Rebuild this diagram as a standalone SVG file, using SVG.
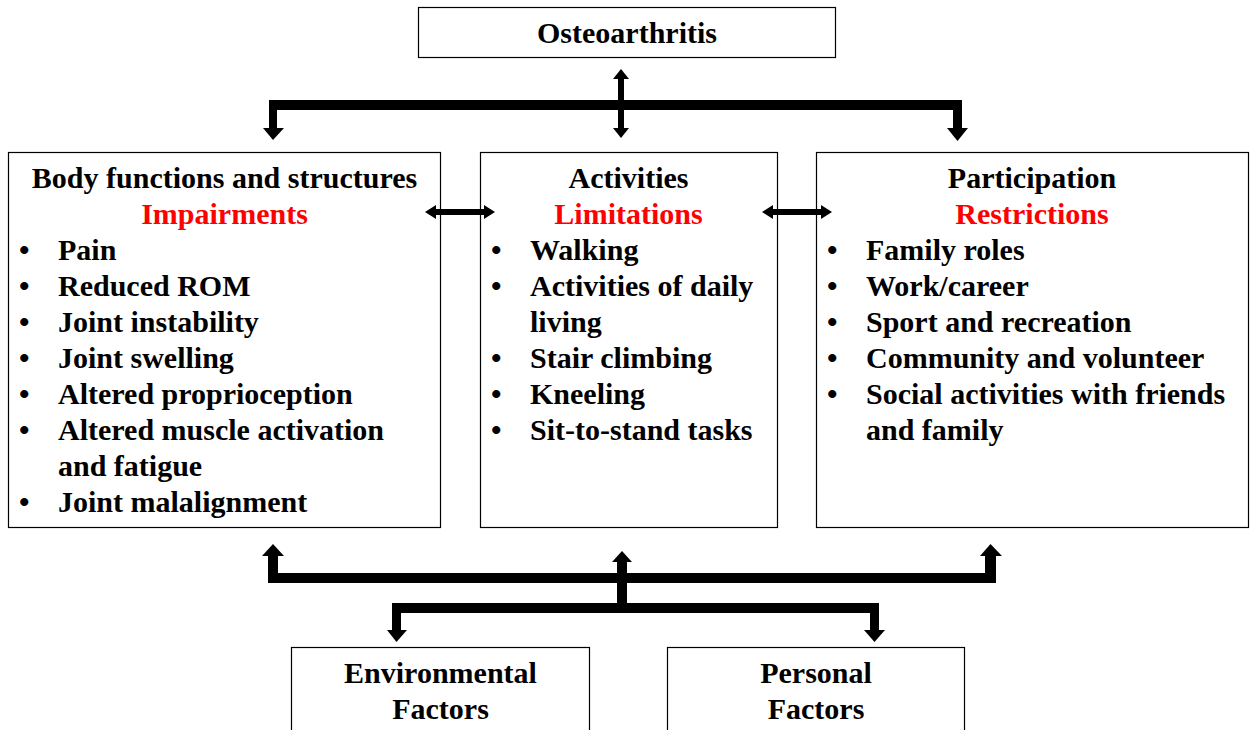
<svg xmlns="http://www.w3.org/2000/svg" width="1252" height="730" viewBox="0 0 1252 730">
<style>
.box{fill:#fff;stroke:#000;stroke-width:1.2}
.t{font-family:"Liberation Serif","Times New Roman",serif;font-weight:bold;font-size:30px;fill:#000}
.c{text-anchor:middle}
.r{fill:#ff0000}
.k{fill:#000;stroke:none}
</style>
<rect width="1252" height="730" fill="#fff"/>
<g id="osteoarthritis">
  <rect class="box" x="418.5" y="7.5" width="417" height="50"/>
  <text class="t c" x="627" y="43">Osteoarthritis</text>
</g>
<g id="body">
  <rect class="box" x="8.5" y="152.5" width="432" height="375"/>
  <text class="t c" x="224.5" y="188">Body functions and structures</text>
  <text class="t c r" x="224.5" y="224">Impairments</text>
  <g class="t">
    <text x="19" y="260">•</text><text x="58" y="260">Pain</text>
    <text x="19" y="296">•</text><text x="58" y="296">Reduced ROM</text>
    <text x="19" y="332">•</text><text x="58" y="332">Joint instability</text>
    <text x="19" y="368">•</text><text x="58" y="368">Joint swelling</text>
    <text x="19" y="404">•</text><text x="58" y="404">Altered proprioception</text>
    <text x="19" y="440">•</text><text x="58" y="440">Altered muscle activation</text>
    <text x="58" y="476">and fatigue</text>
    <text x="19" y="512">•</text><text x="58" y="512">Joint malalignment</text>
  </g>
</g>
<g id="activities">
  <rect class="box" x="480.5" y="152.5" width="297" height="375"/>
  <text class="t c" x="628.5" y="188">Activities</text>
  <text class="t c r" x="628.5" y="224">Limitations</text>
  <g class="t">
    <text x="491" y="260">•</text><text x="530" y="260">Walking</text>
    <text x="491" y="296">•</text><text x="530" y="296">Activities of daily</text>
    <text x="530" y="332">living</text>
    <text x="491" y="368">•</text><text x="530" y="368">Stair climbing</text>
    <text x="491" y="404">•</text><text x="530" y="404">Kneeling</text>
    <text x="491" y="440">•</text><text x="530" y="440">Sit-to-stand tasks</text>
  </g>
</g>
<g id="participation">
  <rect class="box" x="816.5" y="152.5" width="432" height="375"/>
  <text class="t c" x="1032" y="188">Participation</text>
  <text class="t c r" x="1032" y="224">Restrictions</text>
  <g class="t">
    <text x="827" y="260">•</text><text x="866" y="260">Family roles</text>
    <text x="827" y="296">•</text><text x="866" y="296">Work/career</text>
    <text x="827" y="332">•</text><text x="866" y="332">Sport and recreation</text>
    <text x="827" y="368">•</text><text x="866" y="368">Community and volunteer</text>
    <text x="827" y="404">•</text><text x="866" y="404">Social activities with friends</text>
    <text x="866" y="440">and family</text>
  </g>
</g>
<g id="environmental">
  <rect class="box" x="291.5" y="647.5" width="298" height="90"/>
  <text class="t c" x="440.5" y="683">Environmental</text>
  <text class="t c" x="440.5" y="719">Factors</text>
</g>
<g id="personal">
  <rect class="box" x="667.5" y="647.5" width="297" height="90"/>
  <text class="t c" x="816" y="683">Personal</text>
  <text class="t c" x="816" y="719">Factors</text>
</g>
<g id="connectors">
  <rect class="k" x="269" y="100" width="693" height="10"/>
  <rect class="k" x="269" y="100" width="8" height="29"/>
  <polygon class="k" points="263,128 284,128 273,140"/>
  <rect class="k" x="953" y="100" width="9" height="29"/>
  <polygon class="k" points="947,128 968,128 957.5,141"/>
  <rect class="k" x="618" y="78" width="6" height="51"/>
  <polygon class="k" points="613,79 629,79 621,69"/>
  <polygon class="k" points="613,128 629,128 621,138"/>
  <rect class="k" x="435" y="209" width="50" height="6"/>
  <polygon class="k" points="425,212 436,205 436,219"/>
  <polygon class="k" points="495,212 484,205 484,219"/>
  <rect class="k" x="772" y="209" width="50" height="6"/>
  <polygon class="k" points="762,212 773,205 773,219"/>
  <polygon class="k" points="832,212 821,205 821,219"/>
  <rect class="k" x="268" y="573" width="728" height="10"/>
  <rect class="k" x="268" y="555" width="10" height="28"/>
  <polygon class="k" points="262,556 284,556 273,544"/>
  <rect class="k" x="985" y="555" width="11" height="28"/>
  <polygon class="k" points="980,556 1002,556 990.5,544"/>
  <rect class="k" x="617" y="561" width="10" height="52"/>
  <polygon class="k" points="612,562 632,562 622,551"/>
  <rect class="k" x="392" y="603" width="487" height="10"/>
  <rect class="k" x="392" y="603" width="9" height="28"/>
  <polygon class="k" points="387,630 407,630 396.5,642"/>
  <rect class="k" x="870" y="603" width="9" height="28"/>
  <polygon class="k" points="864,630 885,630 874.5,642"/>
</g>
</svg>
